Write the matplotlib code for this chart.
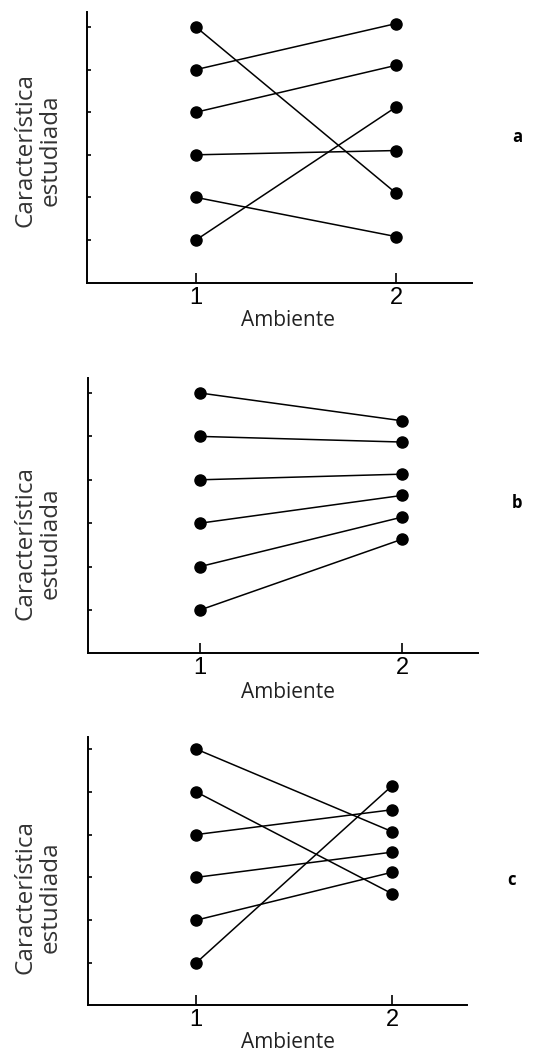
import matplotlib.pyplot as plt

# Values: response at ambiente 1 and ambiente 2
env = [1, 2]
a_env1 = [6, 5, 4, 3, 2, 1]
a_env2 = [2.1, 6.08, 5.1, 3.1, 1.08, 4.12]
b_env1 = [6, 5, 4, 3, 2, 1]
b_env2 = [5.36, 4.87, 4.13, 3.64, 3.14, 2.63]
c_env1 = [6, 5, 4, 3, 2, 1]
c_env2 = [4.07, 2.62, 4.58, 3.59, 3.12, 5.14]
y_ticks = [1, 2, 3, 4, 5, 6]
panel_letters = ["a", "b", "c"]

W, H = 555, 1055
fig = plt.figure(figsize=(W / 100, H / 100), dpi=100)

# pixel layout: left, right, x tick 1, x tick 2, top, bottom, y tick 1, y tick 6
layouts = [
    (87, 472, 196, 396, 12, 283, 240, 27),
    (88, 478, 200, 402, 378, 653, 610, 393),
    (88, 467, 196, 392, 737, 1005, 963, 749),
]
ylabel_y = [150, 543, 897]
xlabel_y = [320, 692, 1043]
letter_pos = [(517, 137), (517, 503), (511, 880)]
series = [(a_env1, a_env2), (b_env1, b_env2), (c_env1, c_env2)]

lab_font = "Open Sans"

for i, (lay, (y1, y2)) in enumerate(zip(layouts, series)):
    left, right, x1, x2, top, bottom, t1, t6 = lay
    ax = fig.add_axes([left / W, 1 - bottom / H, (right - left) / W, (bottom - top) / H])
    sx = x2 - x1
    sy = (t1 - t6) / 5
    ax.set_xlim(1 - (x1 - left) / sx, 2 + (right - x2) / sx)
    ax.set_ylim(1 - (bottom - t1) / sy, 6 + (t6 - top) / sy)
    for a, b in zip(y1, y2):
        ax.plot(env, [a, b], color="black", lw=1.1, marker="o", ms=8,
                solid_capstyle="round")
    for s in ["top", "right"]:
        ax.spines[s].set_visible(False)
    for s in ["left", "bottom"]:
        ax.spines[s].set_linewidth(1.4)
    ax.set_yticks(y_ticks)
    ax.set_yticklabels([])
    ax.tick_params(axis="y", direction="in", length=3, width=1.2)
    ax.set_xticks(env)
    ax.set_xticklabels(["1", "2"], fontsize=17, family="Liberation Sans")
    ax.tick_params(axis="x", direction="in", length=7, width=1.2, pad=3)

    fig.text(38 / W, 1 - ylabel_y[i] / H, "Característica\nestudiada", rotation=90,
             ha="center", va="center", fontsize=17.5, family=lab_font,
             color="#333333", linespacing=1.1)
    fig.text(288 / W, 1 - xlabel_y[i] / H, "Ambiente", ha="center", va="center",
             fontsize=15, family=lab_font, color="#222222")
    lx, ly = letter_pos[i]
    fig.text(lx / W, 1 - ly / H, panel_letters[i], ha="center", va="center",
             fontsize=12, fontweight="bold", family=lab_font)

fig.savefig("out.png", dpi=100)
